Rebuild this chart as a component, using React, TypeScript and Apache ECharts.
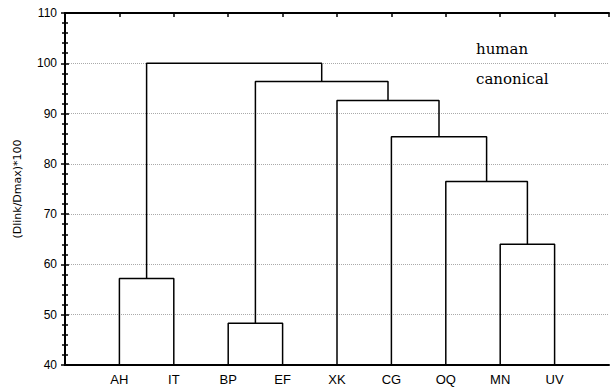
import React, { useEffect, useRef } from "react";
import * as echarts from "echarts";

const leaves = ["AH", "IT", "BP", "EF", "XK", "CG", "OQ", "MN", "UV"];
// merges: [childA, childB, height]; leaves 0..8, new clusters numbered 9, 10, ...
const mergeA = [0, 2, 7, 6, 5, 4, 10, 9];
const mergeB = [1, 3, 8, 11, 12, 13, 14, 15];
const mergeHeight = [57.2, 48.3, 64.0, 76.5, 85.4, 92.6, 96.4, 100.0];
const yTicks = [40, 50, 60, 70, 80, 90, 100, 110];
const annotations = ["human", "canonical"];
const yAxisTitle = "(Dlink/Dmax)*100";

export default function App() {
  const ref = useRef<HTMLDivElement>(null);
  useEffect(() => {
    if (!ref.current) return;
    const chart = echarts.init(ref.current, null, { renderer: "svg" });
    const baseY = yTicks[0];
    const nodeX: number[] = leaves.map((_, i) => i + 1);
    const nodeH: number[] = leaves.map(() => baseY);
    const series: any[] = [];
    mergeA.forEach((a, k) => {
      const b = mergeB[k];
      const h = mergeHeight[k];
      series.push({
        type: "line",
        data: [
          [nodeX[a], nodeH[a]],
          [nodeX[a], h],
          [nodeX[b], h],
          [nodeX[b], nodeH[b]],
        ],
        symbol: "none",
        lineStyle: { color: "#000", width: 1.5 },
        silent: true,
      });
      nodeX.push((nodeX[a] + nodeX[b]) / 2);
      nodeH.push(h);
    });
    const labelFont = { fontFamily: "Arial, 'Liberation Sans', sans-serif", color: "#000" };
    chart.setOption({
      animation: false,
      backgroundColor: "#fff",
      grid: { left: 65, top: 13, right: 2, bottom: 22 },
      xAxis: [
        {
          type: "value",
          min: 0,
          max: leaves.length + 1,
          interval: 1,
          position: "bottom",
          axisLine: { show: true, lineStyle: { color: "#000", width: 2 } },
          axisTick: { show: false },
          splitLine: { show: false },
          axisLabel: {
            ...labelFont,
            fontSize: 13,
            margin: 8,
            formatter: (v: number) => leaves[v - 1] ?? "",
          },
        },
        {
          type: "value",
          min: 0,
          max: leaves.length + 1,
          interval: 1,
          position: "top",
          axisLine: { show: true, lineStyle: { color: "#000", width: 2 } },
          axisTick: { show: true, inside: true, length: 4, lineStyle: { color: "#000", width: 1.5 } },
          splitLine: { show: false },
          axisLabel: { show: false },
        },
      ],
      yAxis: [
        {
          type: "value",
          min: yTicks[0],
          max: yTicks[yTicks.length - 1],
          interval: 10,
          position: "left",
          name: yAxisTitle,
          nameLocation: "middle",
          nameGap: 42,
          nameTextStyle: { fontFamily: "'DejaVu Sans', sans-serif", fontSize: 11, color: "#000" },
          axisLine: { show: true, lineStyle: { color: "#000", width: 2 } },
          axisTick: { show: true, inside: true, length: 4, lineStyle: { color: "#000", width: 1.5 } },
          minorTick: { show: true, splitNumber: 5, length: 3, lineStyle: { color: "#000", width: 1.5 } },
          splitLine: { show: true, lineStyle: { color: "#aaa", type: "dotted", width: 1 } },
          axisLabel: { ...labelFont, fontSize: 12, margin: 8 },
        },
        {
          type: "value",
          min: yTicks[0],
          max: yTicks[yTicks.length - 1],
          interval: 10,
          position: "right",
          axisLine: { show: true, lineStyle: { color: "#000", width: 2 } },
          axisTick: { show: true, inside: true, length: 4, lineStyle: { color: "#000", width: 1.5 } },
          minorTick: { show: true, splitNumber: 5, length: 3, lineStyle: { color: "#000", width: 1.5 } },
          splitLine: { show: false },
          axisLabel: { show: false },
        },
      ],
      graphic: annotations.map((t, i) => ({
        type: "text",
        left: 476,
        top: 41 + i * 30,
        style: {
          text: t,
          fill: "#000",
          font: "15px 'DejaVu Serif', serif",
        },
      })),
      series,
    });
    return () => chart.dispose();
  }, []);
  return (
    <div
      ref={ref}
      style={{ position: "absolute", left: 0, top: 0, width: 612, height: 387 }}
    />
  );
}
